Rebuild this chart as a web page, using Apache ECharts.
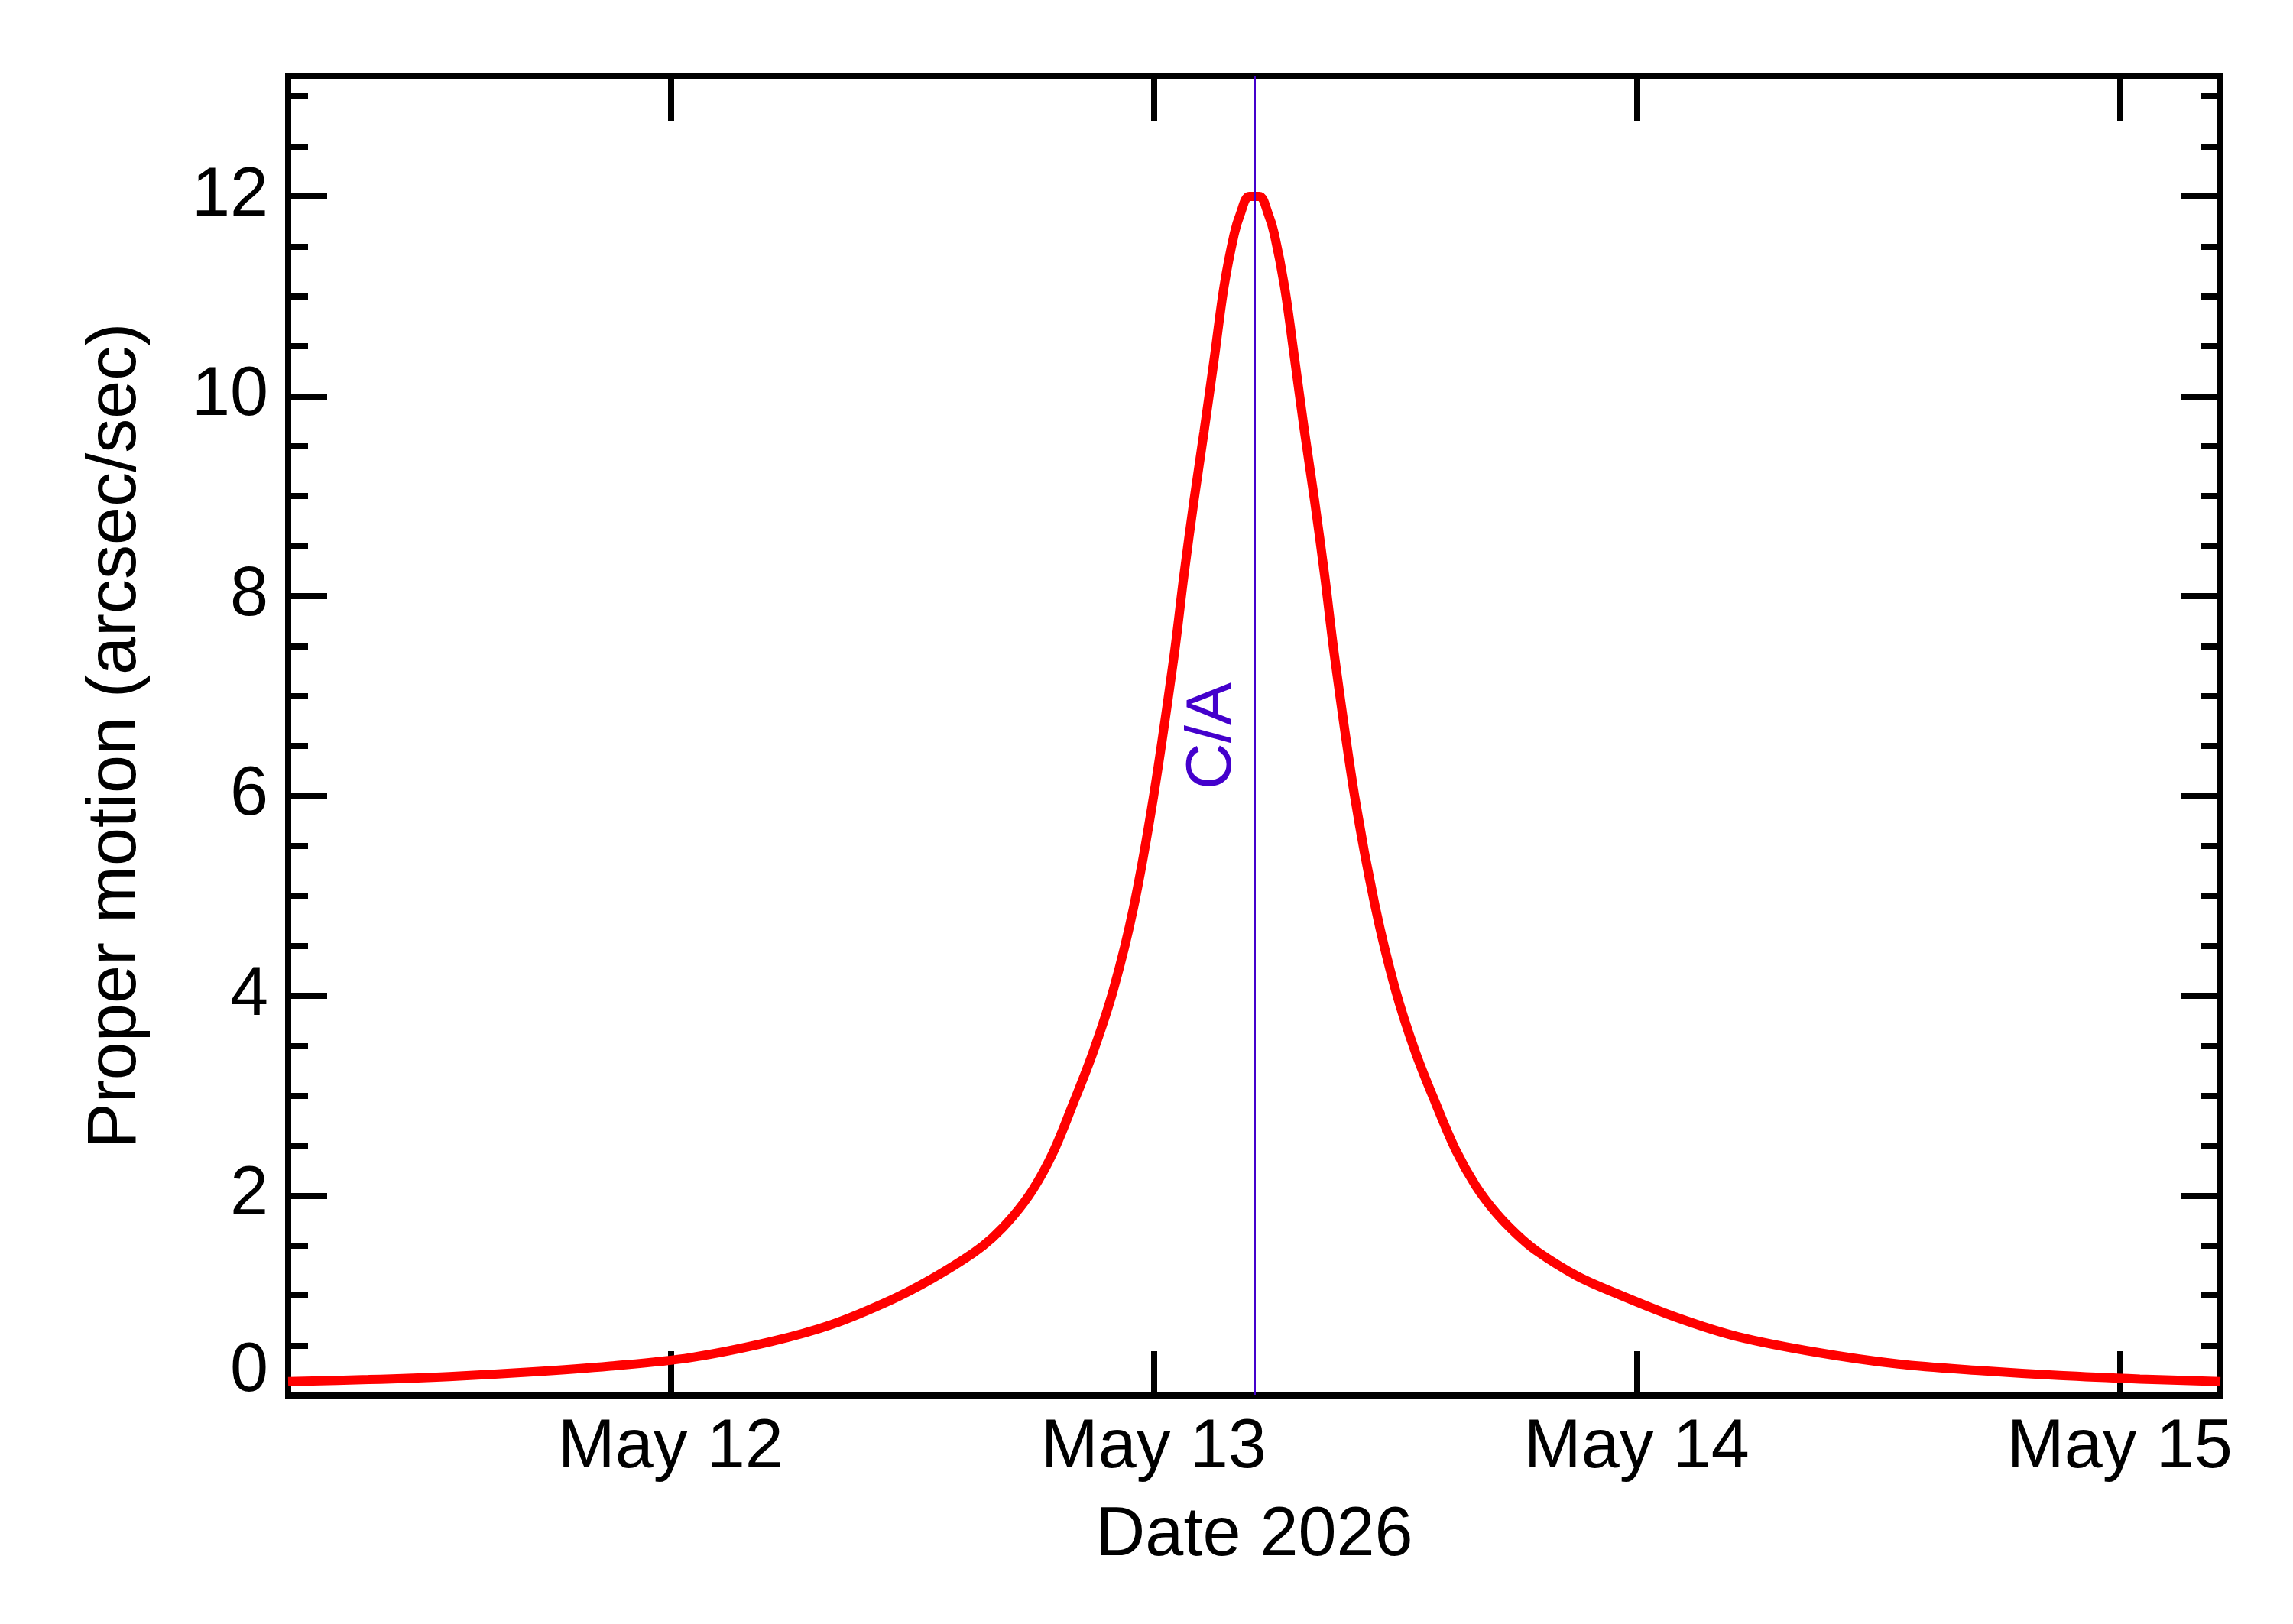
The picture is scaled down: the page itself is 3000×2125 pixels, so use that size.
<!DOCTYPE html>
<html>
<head>
<meta charset="utf-8">
<title>Proper motion</title>
<script src="https://cdn.jsdelivr.net/npm/echarts@6/dist/echarts.min.js"></script>
<style>
  html, body { margin: 0; padding: 0; background: #fff; }
  #chart { width: 3000px; height: 2125px; }
</style>
</head>
<body>
<div id="chart"></div>
<script>
// sample times (UTC) and proper motion, arcsec/sec
const times = [
  '2026-05-11 05:00', '2026-05-11 09:00', '2026-05-11 13:00', '2026-05-11 17:00',
  '2026-05-11 21:00', '2026-05-12 01:00', '2026-05-12 05:00', '2026-05-12 08:00',
  '2026-05-12 11:00', '2026-05-12 13:00', '2026-05-12 15:00', '2026-05-12 16:00',
  '2026-05-12 17:00', '2026-05-12 18:00', '2026-05-12 19:00', '2026-05-12 20:00',
  '2026-05-12 21:00', '2026-05-12 22:00', '2026-05-12 23:00', '2026-05-13 00:00',
  '2026-05-13 01:00', '2026-05-13 01:30', '2026-05-13 02:00', '2026-05-13 02:30',
  '2026-05-13 03:00', '2026-05-13 03:30', '2026-05-13 04:00', '2026-05-13 04:18',
  '2026-05-13 04:45', '2026-05-13 05:15', '2026-05-13 05:42', '2026-05-13 06:00',
  '2026-05-13 06:30', '2026-05-13 07:00', '2026-05-13 07:30', '2026-05-13 08:00',
  '2026-05-13 08:30', '2026-05-13 09:00', '2026-05-13 10:00', '2026-05-13 11:00',
  '2026-05-13 12:00', '2026-05-13 13:00', '2026-05-13 14:00', '2026-05-13 15:00',
  '2026-05-13 16:00', '2026-05-13 17:00', '2026-05-13 18:00', '2026-05-13 19:00',
  '2026-05-13 21:00', '2026-05-13 23:00', '2026-05-14 02:00', '2026-05-14 05:00',
  '2026-05-14 09:00', '2026-05-14 13:00', '2026-05-14 17:00', '2026-05-14 21:00',
  '2026-05-15 01:00', '2026-05-15 05:00'
];
const motion = [
  0.14, 0.16, 0.19, 0.235,
  0.295, 0.38, 0.54, 0.71,
  0.96, 1.17, 1.42, 1.58,
  1.79, 2.06, 2.43, 2.92,
  3.44, 4.06, 4.88, 6.00,
  7.38, 8.20, 8.95, 9.64,
  10.36, 11.10, 11.62, 11.82,
  12.0, 12.0, 11.82, 11.62,
  11.10, 10.38, 9.64, 8.95,
  8.20, 7.38, 5.98, 4.90,
  4.07, 3.44, 2.93, 2.46,
  2.10, 1.83, 1.62, 1.45,
  1.20, 1.02, 0.78, 0.59,
  0.43, 0.315, 0.25, 0.20,
  0.165, 0.14
];
const caTime = '2026-05-13 05:00';
const xRange = ['2026-05-11 05:00', '2026-05-15 05:00'];
const dayTicks = ['2026-05-12 00:00', '2026-05-13 00:00', '2026-05-14 00:00', '2026-05-15 00:00'];
const dayLabels = ['May 12', 'May 13', 'May 14', 'May 15'];
const yMax = 13.2;

const FONT = 'Liberation Sans, Arial, Helvetica, sans-serif';

function utc(s) {
  const [d, t] = s.split(' ');
  const [Y, M, D] = d.split('-').map(Number);
  const [h, m] = t.split(':').map(Number);
  return Date.UTC(Y, M - 1, D, h, m);
}

const dayMs = dayTicks.map(utc);

function xLabel(v) {
  const i = dayMs.indexOf(v);
  return i < 0 ? '' : dayLabels[i];
}

const frameLine = { show: true, onZero: false, lineStyle: { color: '#000', width: 8, cap: 'square' } };

function xAxisOf(position, withLabels) {
  return {
    type: 'value',
    position: position,
    min: utc(xRange[0]),
    max: utc(xRange[1]),
    axisLine: frameLine,
    axisTick: { show: true, inside: true, length: 58, customValues: dayMs, lineStyle: { color: '#000', width: 8 } },
    axisLabel: {
      show: withLabels,
      customValues: dayMs,
      formatter: xLabel,
      margin: 24,
      fontFamily: FONT,
      fontSize: 90,
      color: '#000'
    },
    splitLine: { show: false },
    name: withLabels ? 'Date 2026' : '',
    nameLocation: 'middle',
    nameGap: 139,
    nameTextStyle: { fontFamily: FONT, fontSize: 90, color: '#000' }
  };
}

function yAxisOf(position, major) {
  return {
    type: 'value',
    position: position,
    min: 0,
    max: yMax,
    interval: major ? 2 : 0.5,
    axisLine: major ? frameLine : { show: false, onZero: false },
    axisTick: { show: true, inside: true, length: major ? 51 : 26, lineStyle: { color: '#000', width: 8 } },
    axisLabel: {
      show: major && position === 'left',
      showMaxLabel: false,
      margin: 26,
      fontFamily: FONT,
      fontSize: 90,
      color: '#000',
      formatter: v => (v === 0 ? '{z|0}' : String(v)),
      rich: { z: { fontFamily: FONT, fontSize: 90, color: '#000', padding: [0, 0, 62, 0] } }
    },
    splitLine: { show: false },
    name: major && position === 'left' ? 'Proper motion (arcsec/sec)' : '',
    nameLocation: 'middle',
    nameRotate: 90,
    nameGap: 180,
    nameTextStyle: { fontFamily: FONT, fontSize: 90, color: '#000' }
  };
}

const chart = echarts.init(document.getElementById('chart'), null, { renderer: 'canvas', devicePixelRatio: 1 });

chart.setOption({
  animation: false,
  backgroundColor: '#fff',
  grid: { left: 377, right: 95, top: 100, bottom: 299, containLabel: false, outerBoundsMode: 'none' },
  xAxis: [xAxisOf('bottom', true), xAxisOf('top', false)],
  yAxis: [yAxisOf('left', true), yAxisOf('left', false), yAxisOf('right', true), yAxisOf('right', false)],
  series: [{
    type: 'line',
    xAxisIndex: 0,
    yAxisIndex: 0,
    showSymbol: false,
    clip: true,
    smooth: 0.35,
    lineStyle: { color: '#ff0000', width: 12 },
    data: times.map((t, i) => [utc(t), motion[i]]),
    markLine: {
      silent: true,
      symbol: ['none', 'none'],
      lineStyle: { color: '#4400cc', width: 3, type: 'solid' },
      label: {
        show: true,
        formatter: 'C/A',
        position: 'insideMiddleTop',
        distance: 12,
        fontFamily: FONT,
        fontSize: 84,
        color: '#4400cc'
      },
      data: [{ xAxis: utc(caTime) }]
    }
  }]
});
</script>
</body>
</html>
